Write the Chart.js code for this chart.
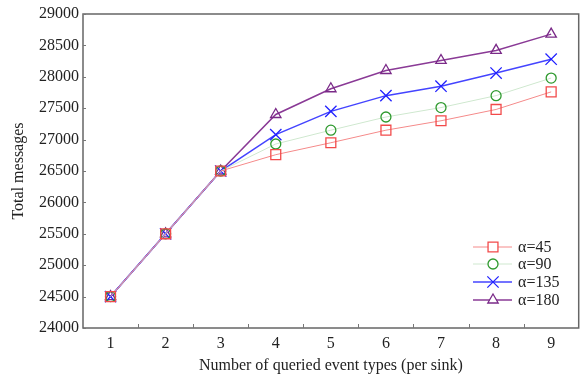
<!DOCTYPE html>
<html>
<head>
<meta charset="utf-8">
<script src="https://cdn.jsdelivr.net/npm/chart.js@4"></script>
<style>
  html, body { margin: 0; padding: 0; background: #fff; }
  #wrap { width: 588px; height: 375px; }
</style>
</head>
<body>
<div id="wrap"><canvas id="chart"></canvas></div>
<script>
// data
const eventTypes = ['1', '2', '3', '4', '5', '6', '7', '8', '9'];
const alpha45  = [24500, 25500, 26500, 26760, 26950, 27150, 27300, 27480, 27760];
const alpha90  = [24500, 25500, 26500, 26930, 27150, 27360, 27510, 27700, 27980];
const alpha135 = [24500, 25500, 26500, 27080, 27450, 27700, 27850, 28060, 28280];
const alpha180 = [24500, 25500, 26500, 27400, 27810, 28100, 28260, 28420, 28680];
const seriesLabels = ['\u03b1=45', '\u03b1=90', '\u03b1=135', '\u03b1=180'];
const yTicks = [24000, 24500, 25000, 25500, 26000, 26500, 27000, 27500, 28000, 28500, 29000];

const serif = '"Liberation Serif", "DejaVu Serif", serif';

const styles = [
    { line: '#f58a8a', mark: '#f24a4a', width: 1, pointStyle: 'rect', radius: 7 },
    { line: '#cfe8cf', mark: '#2f9a2f', width: 1, pointStyle: 'circle', radius: 5 },
    { line: '#4444ff', mark: '#2222ff', width: 1.5, pointStyle: 'crossRot', radius: 8 },
    { line: '#8a3a96', mark: '#7a2a88', width: 1.5, pointStyle: 'triangle', radius: 6 },
];

const datasets = [alpha45, alpha90, alpha135, alpha180].map((vals, i) => ({
    label: seriesLabels[i],
    data: vals,
    borderColor: styles[i].line,
    borderWidth: styles[i].width,
    pointStyle: styles[i].pointStyle,
    pointRadius: styles[i].radius,
    pointBorderColor: styles[i].mark,
    pointBackgroundColor: 'rgba(0,0,0,0)',
    pointBorderWidth: 1.3,
    fill: false,
    tension: 0,
}));

// frame, inward ticks and the line-through-marker legend
const framePlugin = {
    id: 'frame',
    afterDraw(chart) {
        const ctx = chart.ctx;
        const a = chart.chartArea;
        const x = chart.scales.x;
        const y = chart.scales.y;
        ctx.save();
        ctx.strokeStyle = '#666';
        ctx.lineWidth = 1.5;
        ctx.strokeRect(a.left, a.top, a.right - a.left, a.bottom - a.top);

        ctx.lineWidth = 1;
        ctx.strokeStyle = '#777';
        for (let i = 0; i < eventTypes.length - 1; i++) {
            const px = Math.round((x.getPixelForValue(i) + x.getPixelForValue(i + 1)) / 2) + 0.5;
            ctx.beginPath();
            ctx.moveTo(px, a.bottom);
            ctx.lineTo(px, a.bottom - 4);
            ctx.stroke();
        }
        yTicks.forEach(v => {
            const py = Math.round(y.getPixelForValue(v)) + 0.5;
            ctx.beginPath();
            ctx.moveTo(a.left, py);
            ctx.lineTo(a.left + 3, py);
            ctx.stroke();
        });

        // legend
        const rowY = [247, 264, 282, 300];
        const x0 = 473, x1 = 512, xm = 493;
        ctx.font = '16px ' + serif;
        ctx.textBaseline = 'middle';
        ctx.textAlign = 'left';
        chart.data.datasets.forEach((ds, i) => {
            const yy = rowY[i];
            ctx.strokeStyle = ds.borderColor;
            ctx.lineWidth = ds.borderWidth;
            ctx.beginPath();
            ctx.moveTo(x0, yy);
            ctx.lineTo(x1, yy);
            ctx.stroke();
            ctx.strokeStyle = ds.pointBorderColor;
            ctx.fillStyle = '#fff';
            ctx.lineWidth = 1.3;
            Chart.helpers.drawPoint(ctx, {
                pointStyle: ds.pointStyle,
                radius: ds.pointRadius,
                borderWidth: 1.3,
                rotation: 0,
            }, xm, yy);
            ctx.fillStyle = '#222';
            ctx.fillText(ds.label, 518, yy + 1);
        });
        ctx.restore();
    }
};

new Chart(document.getElementById('chart'), {
    type: 'line',
    data: { labels: eventTypes, datasets: datasets },
    options: {
        responsive: true,
        maintainAspectRatio: false,
        animation: false,
        layout: { padding: { top: 14, right: 3, left: 0, bottom: 0 } },
        plugins: {
            legend: { display: false },
            tooltip: { enabled: false },
        },
        scales: {
            x: {
                type: 'category',
                offset: true,
                grid: { display: false, drawTicks: false },
                border: { display: false },
                ticks: { color: '#222', font: { family: serif, size: 16 }, padding: 6, maxRotation: 0 },
                title: {
                    display: true,
                    text: 'Number of queried event types (per sink)',
                    color: '#222',
                    font: { family: serif, size: 16 },
                    padding: { top: 0, bottom: 0 },
                },
                afterFit(scale) { scale.height = 47; },
            },
            y: {
                min: 24000,
                max: 29000,
                grid: { display: false, drawTicks: false },
                border: { display: false },
                ticks: {
                    stepSize: 500,
                    color: '#222',
                    font: { family: serif, size: 16 },
                    padding: 4,
                    callback: v => String(v),
                },
                title: {
                    display: true,
                    text: 'Total messages',
                    color: '#222',
                    font: { family: serif, size: 16 },
                    padding: { top: 9, bottom: 2 },
                },
                afterFit(scale) { scale.width = 83; },
            },
        },
    },
    plugins: [framePlugin],
});
</script>
</body>
</html>
